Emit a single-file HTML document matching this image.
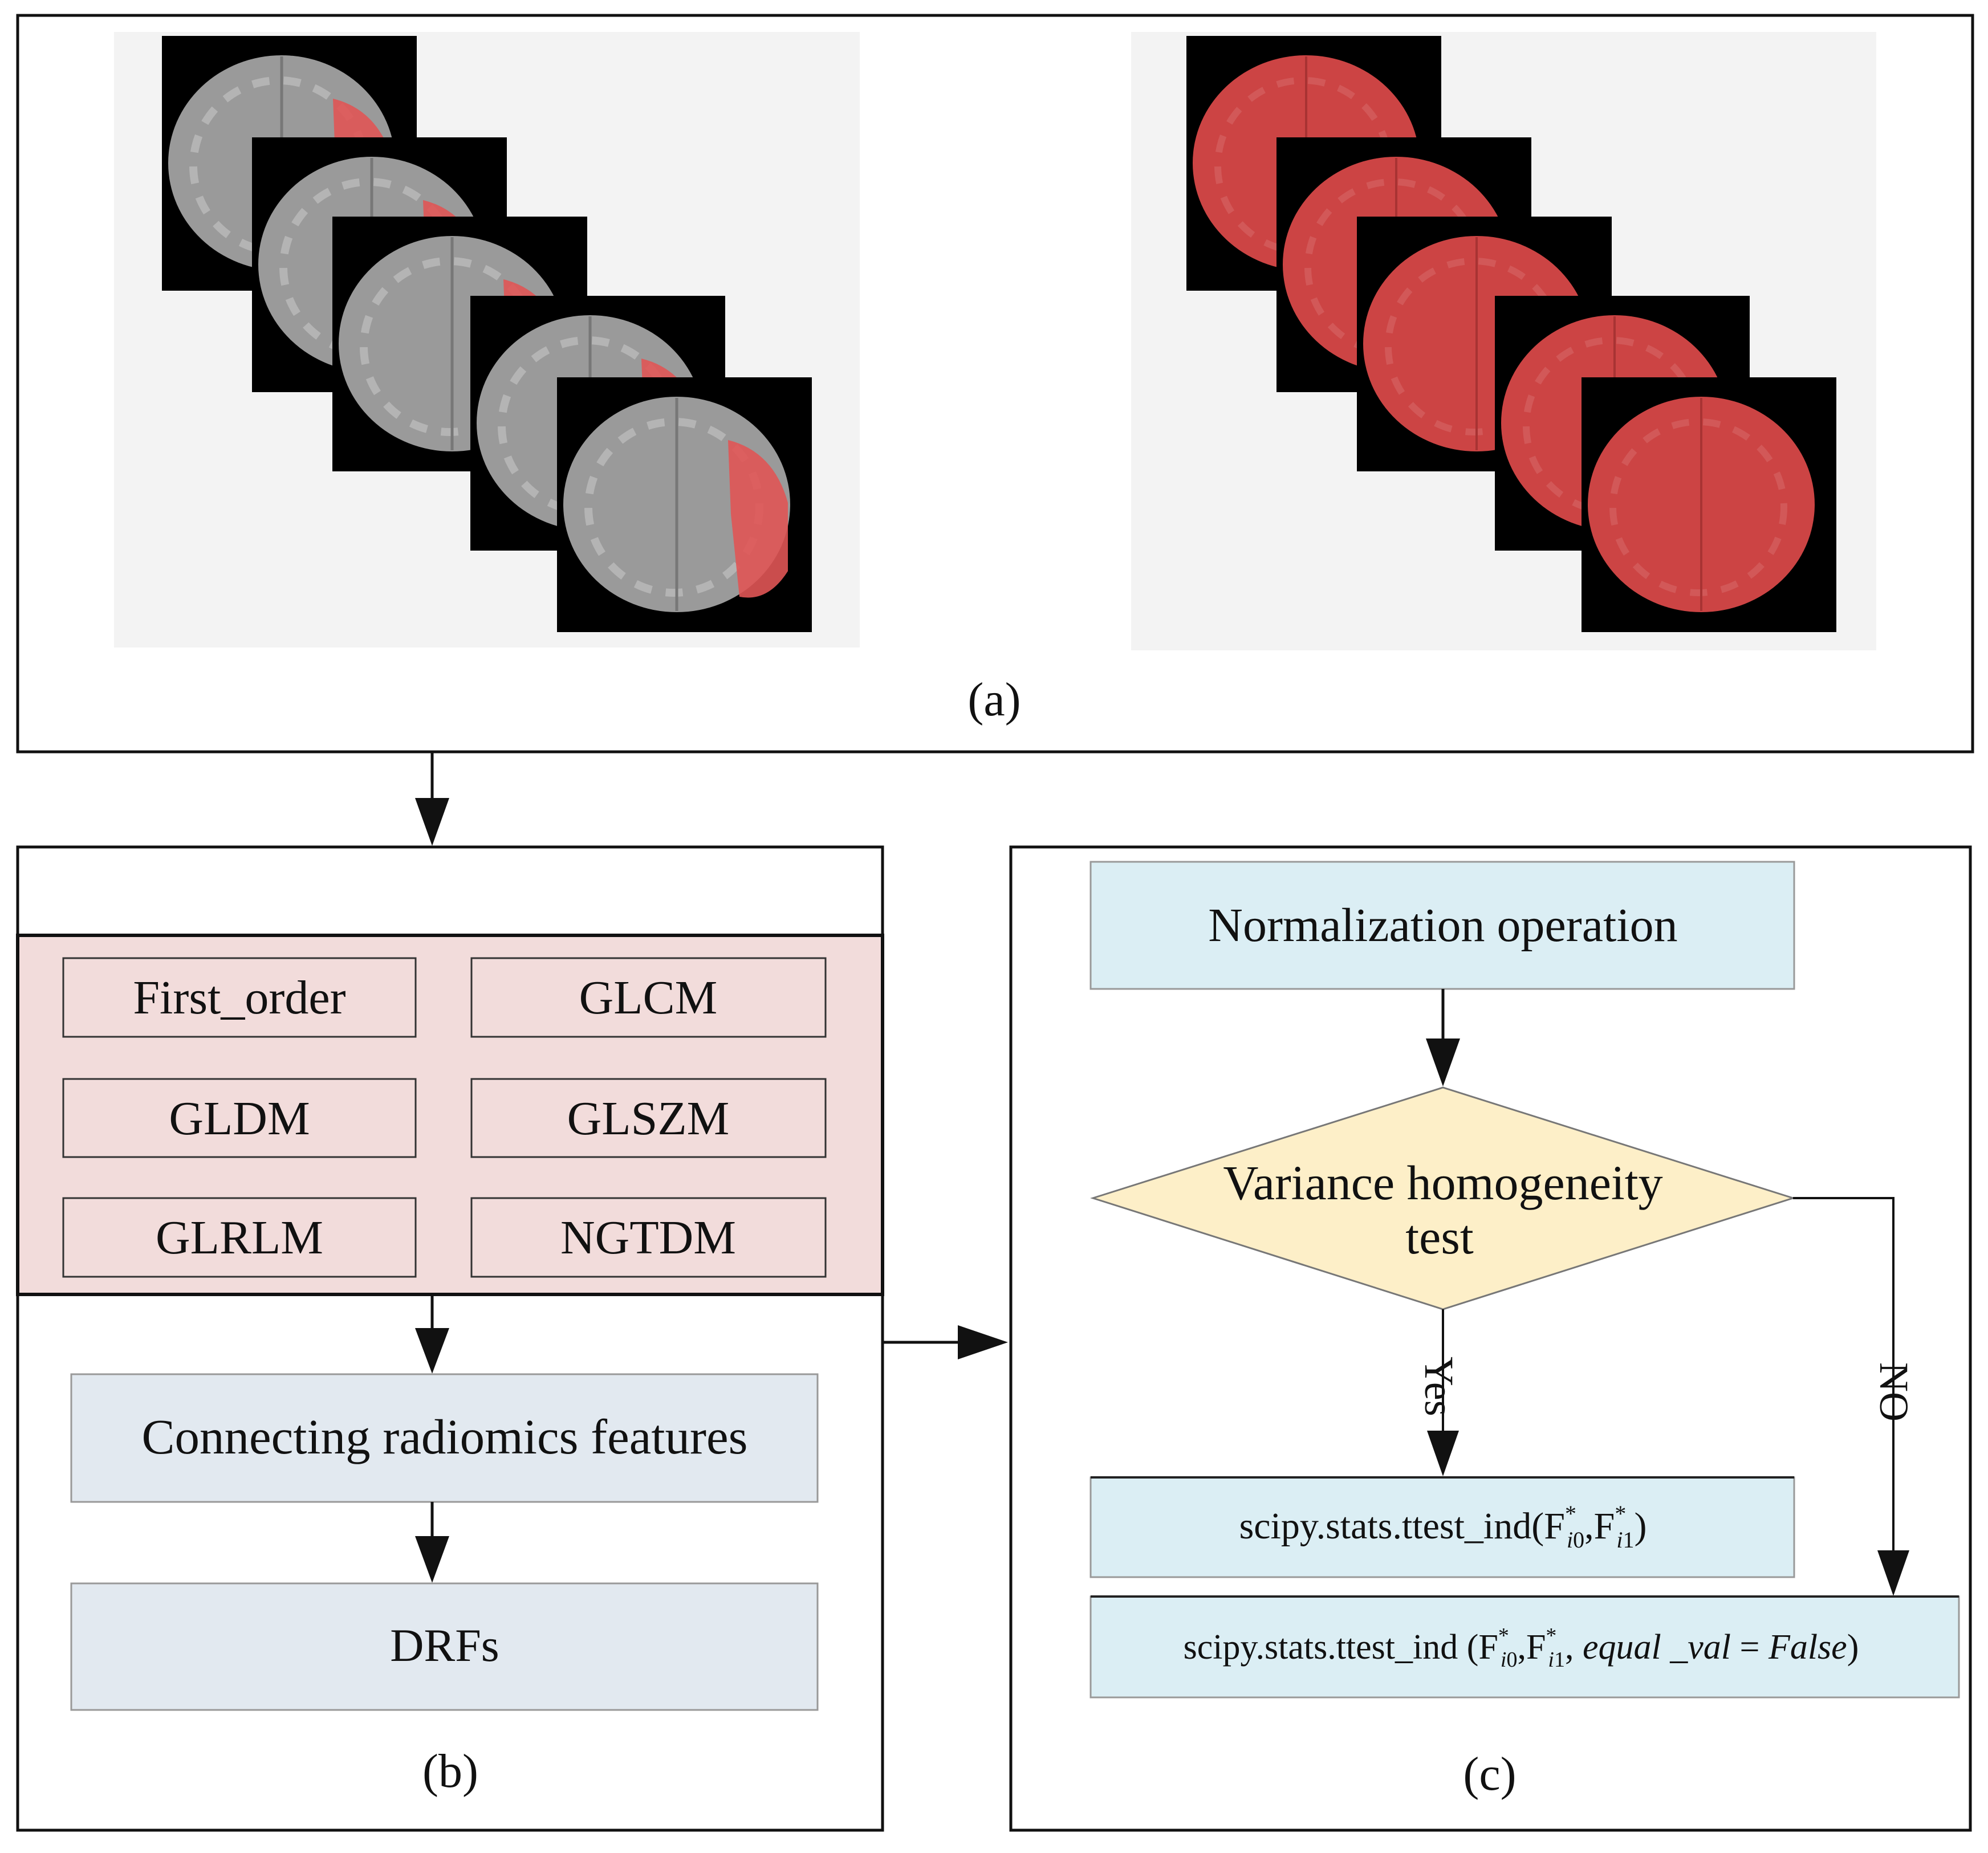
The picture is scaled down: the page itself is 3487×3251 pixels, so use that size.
<!DOCTYPE html>
<html><head><meta charset="utf-8"><style>
html,body{margin:0;padding:0;background:#fff}
svg{display:block}
text{font-family:"Liberation Serif",serif;fill:#111}
</style></head><body>
<svg width="3487" height="3251" viewBox="0 0 3487 3251" xmlns="http://www.w3.org/2000/svg">
<defs>
<g id="sqL">
 <rect x="0" y="0" width="447" height="447" fill="#000"/>
 <ellipse cx="210" cy="223" rx="199" ry="189" fill="#9a9a9a"/>
 <ellipse cx="205" cy="228" rx="150" ry="150" fill="none" stroke="#b4b4b4" stroke-width="14" stroke-dasharray="30 25"/>
 <line x1="210" y1="36" x2="210" y2="410" stroke="#777" stroke-width="5"/>
 <path d="M300 110 Q380 130 405 220 L405 340 Q370 395 320 385 L305 240 Z" fill="#e05555" opacity="0.9"/>
</g>
<g id="sqR">
 <rect x="0" y="0" width="447" height="447" fill="#000"/>
 <ellipse cx="210" cy="223" rx="199" ry="189" fill="#cc4444"/>
 <ellipse cx="205" cy="228" rx="150" ry="150" fill="none" stroke="#d25858" stroke-width="12" stroke-dasharray="30 25"/>
 <line x1="210" y1="36" x2="210" y2="410" stroke="#a83333" stroke-width="4"/>
</g>
</defs>

<!-- top box -->
<rect x="31" y="27" width="3429" height="1292" fill="#fff" stroke="#111" stroke-width="5"/>
<rect x="200" y="56" width="1308" height="1080" fill="#f3f3f3"/>
<rect x="1984" y="56" width="1307" height="1085" fill="#f3f3f3"/>
<use href="#sqL" x="284" y="63"/>
<use href="#sqL" x="442" y="241"/>
<use href="#sqL" x="583" y="380"/>
<use href="#sqL" x="825" y="519"/>
<use href="#sqL" x="977" y="662"/>
<use href="#sqR" x="2081" y="63"/>
<use href="#sqR" x="2239" y="241"/>
<use href="#sqR" x="2380" y="380"/>
<use href="#sqR" x="2622" y="519"/>
<use href="#sqR" x="2774" y="662"/>
<text x="1744" y="1255" font-size="84" text-anchor="middle">(a)</text>

<!-- arrow a->b -->
<line x1="758" y1="1319" x2="758" y2="1410" stroke="#111" stroke-width="5"/>
<polygon points="728,1400 788,1400 758,1484" fill="#111"/>

<!-- box b -->
<rect x="31" y="1486" width="1517" height="1725" fill="#fff" stroke="#111" stroke-width="5"/>
<rect x="31" y="1641" width="1517" height="630" fill="#f2dcdb" stroke="#111" stroke-width="6"/>
<g fill="#f2dcdb" stroke="#333" stroke-width="3">
<rect x="111" y="1681" width="618" height="138"/>
<rect x="827" y="1681" width="621" height="138"/>
<rect x="111" y="1893" width="618" height="137"/>
<rect x="827" y="1893" width="621" height="137"/>
<rect x="111" y="2102" width="618" height="138"/>
<rect x="827" y="2102" width="621" height="138"/>
</g>
<g font-size="84" text-anchor="middle">
<text x="420" y="1778">First_order</text>
<text x="1137" y="1778">GLCM</text>
<text x="420" y="1990">GLDM</text>
<text x="1137" y="1990">GLSZM</text>
<text x="420" y="2199">GLRLM</text>
<text x="1137" y="2199">NGTDM</text>
</g>
<line x1="758" y1="2271" x2="758" y2="2340" stroke="#111" stroke-width="5"/>
<polygon points="728,2330 788,2330 758,2410" fill="#111"/>
<rect x="125" y="2411" width="1309" height="224" fill="#e2e9f0" stroke="#999" stroke-width="3"/>
<text x="780" y="2550" font-size="87" text-anchor="middle">Connecting radiomics features</text>
<line x1="758" y1="2635" x2="758" y2="2700" stroke="#111" stroke-width="5"/>
<polygon points="728,2695 788,2695 758,2777" fill="#111"/>
<rect x="125" y="2778" width="1309" height="222" fill="#e2e9f0" stroke="#999" stroke-width="3"/>
<text x="780" y="2914" font-size="82" text-anchor="middle">DRFs</text>
<text x="790" y="3135" font-size="84" text-anchor="middle">(b)</text>

<!-- arrow b->c -->
<line x1="1548" y1="2355" x2="1690" y2="2355" stroke="#111" stroke-width="5"/>
<polygon points="1680,2325 1680,2385 1768,2355" fill="#111"/>

<!-- box c -->
<rect x="1773" y="1486" width="1683" height="1725" fill="#fff" stroke="#111" stroke-width="5"/>
<rect x="1913" y="1512" width="1234" height="223" fill="#dbeef4" stroke="#999" stroke-width="3"/>
<text x="2531" y="1651" font-size="84" text-anchor="middle">Normalization operation</text>
<line x1="2531" y1="1735" x2="2531" y2="1830" stroke="#111" stroke-width="5"/>
<polygon points="2501,1822 2561,1822 2531,1906" fill="#111"/>
<polygon points="1917,2102 2531,1908 3145,2102 2531,2297" fill="#fdefc8" stroke="#777" stroke-width="3"/>
<text x="2531" y="2104" font-size="86" text-anchor="middle">Variance homogeneity</text>
<text x="2525" y="2199" font-size="86" text-anchor="middle">test</text>
<line x1="2531" y1="2297" x2="2531" y2="2520" stroke="#111" stroke-width="4"/>
<polygon points="2503,2510 2559,2510 2531,2590" fill="#111"/>
<text x="0" y="0" font-size="72" transform="translate(2500,2380) rotate(90)">Yes</text>
<polyline points="3145,2102 3321,2102 3321,2730" fill="none" stroke="#111" stroke-width="4"/>
<polygon points="3293,2720 3349,2720 3321,2800" fill="#111"/>
<text x="0" y="0" font-size="72" transform="translate(3298,2390) rotate(90)">NO</text>
<rect x="1913" y="2592" width="1234" height="175" fill="#dbeef4" stroke="#999" stroke-width="3"/>
<line x1="1913" y1="2592" x2="3147" y2="2592" stroke="#222" stroke-width="4"/>
<text x="2531" y="2699" font-size="66" text-anchor="middle">scipy.stats.ttest_ind(F<tspan font-size="40" dy="-30">*</tspan><tspan font-size="40" font-style="italic" dx="-17" dy="46">i</tspan><tspan font-size="40">0</tspan><tspan dy="-16">,F</tspan><tspan font-size="40" dy="-30">*</tspan><tspan font-size="40" font-style="italic" dx="-17" dy="46">i</tspan><tspan font-size="40">1</tspan><tspan dy="-16">)</tspan></text>
<rect x="1913" y="2801" width="1523" height="177" fill="#dbeef4" stroke="#999" stroke-width="3"/>
<line x1="1913" y1="2801" x2="3436" y2="2801" stroke="#222" stroke-width="4"/>
<text x="2668" y="2910" font-size="62" text-anchor="middle">scipy.stats.ttest_ind (F<tspan font-size="38" dy="-28">*</tspan><tspan font-size="38" font-style="italic" dx="-15" dy="42">i</tspan><tspan font-size="38">0</tspan><tspan dy="-14">,F</tspan><tspan font-size="38" dy="-28">*</tspan><tspan font-size="38" font-style="italic" dx="-15" dy="42">i</tspan><tspan font-size="38">1</tspan><tspan dy="-14">, </tspan><tspan font-style="italic">equal _val</tspan> = <tspan font-style="italic">False</tspan>)</text>
<text x="2613" y="3140" font-size="84" text-anchor="middle">(c)</text>
</svg>
</body></html>
